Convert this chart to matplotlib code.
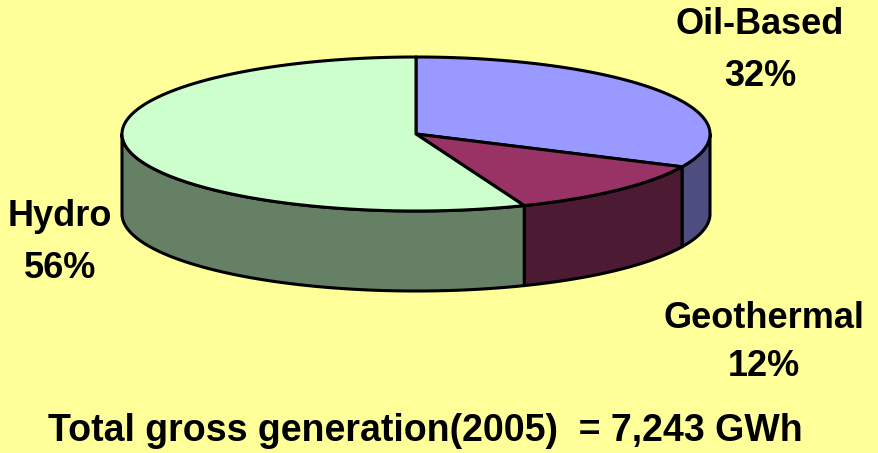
import numpy as np
import matplotlib.pyplot as plt
from matplotlib.patches import Polygon

# datos
fuentes = ["Oil-Based", "Geothermal", "Hydro"]
porcentajes = [32, 12, 56]
colores_top = ["#9999FF", "#993366", "#CCFFCC"]
colores_lado = ["#4D4D80", "#4D1A33", "#668066"]
titulo = "Total gross generation(2005)  = 7,243 GWh"

fondo = "#FFFF99"

# geometria del pastel (en pixeles)
cx, cy = 416, 134
a, b = 294, 77
prof = 80


def punto(theta, dy=0):
    t = np.radians(theta)
    return cx + a * np.cos(t), cy - b * np.sin(t) + dy


fig = plt.figure(figsize=(8.79, 4.53), dpi=100, facecolor=fondo)
ax = fig.add_axes([0, 0, 1, 1])
ax.set_facecolor(fondo)
ax.set_xlim(0, 879)
ax.set_ylim(453, 0)
ax.axis("off")

# angulos de cada rebanada (sentido horario desde arriba)
total = sum(porcentajes)
angulos = []
ini = 90.0
for p in porcentajes:
    fin = ini - 360.0 * p / total
    angulos.append((ini, fin))
    ini = fin

# paredes laterales (solo la parte frontal, theta entre -180 y 0)
for (t0, t1), col in zip(angulos, colores_lado):
    lo, hi = max(t1, -180), min(t0, 0)
    if lo >= hi:
        continue
    th = np.linspace(hi, lo, 100)
    arriba = [punto(t) for t in th]
    abajo = [punto(t, prof) for t in th[::-1]]
    ax.add_patch(Polygon(arriba + abajo, closed=True, facecolor=col,
                         edgecolor="black", lw=2.2, joinstyle="round"))

# tapas
for (t0, t1), col in zip(angulos, colores_top):
    th = np.linspace(t0, t1, 200)
    pts = [(cx, cy)] + [punto(t) for t in th]
    ax.add_patch(Polygon(pts, closed=True, facecolor=col,
                         edgecolor="black", lw=2.2, joinstyle="round"))

# etiquetas
fuente = "Liberation Sans"
posiciones = [(760, 25, 77), (764, 318, 366), (60, 217, 269)]
for nombre, p, (x, y1, y2) in zip(fuentes, porcentajes, posiciones):
    ax.text(x, y1, nombre, ha="center", va="center", fontsize=26,
            fontweight="bold", family=fuente)
    ax.text(x, y2, f"{p}%", ha="center", va="center", fontsize=26,
            fontweight="bold", family=fuente)

ax.text(425, 431, titulo, ha="center", va="center", fontsize=27,
        fontweight="bold", family=fuente)

fig.savefig("out.png", dpi=100, facecolor=fondo)
